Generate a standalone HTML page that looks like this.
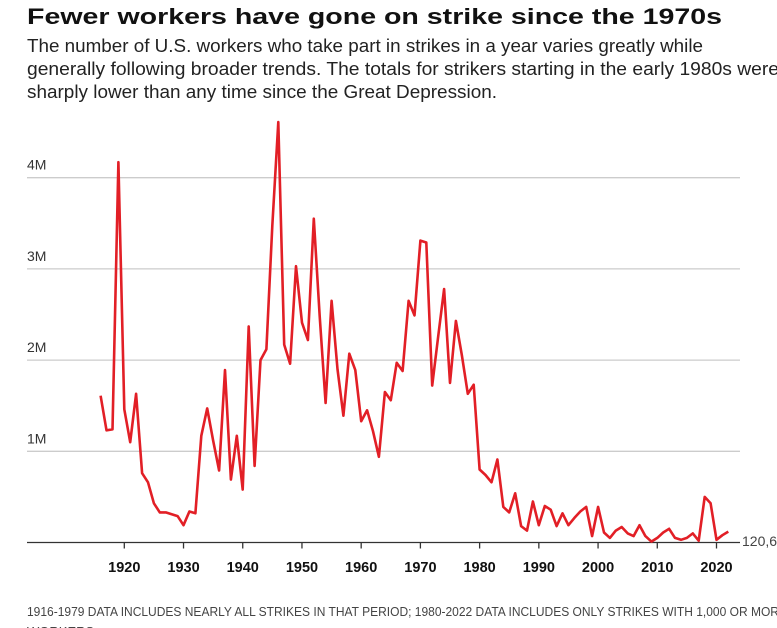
<!DOCTYPE html>
<html><head><meta charset="utf-8"><style>
html,body{margin:0;padding:0;background:#fff;width:777px;height:628px;overflow:hidden}
svg{display:block;font-family:"Liberation Sans",sans-serif}
</style></head><body>
<svg id="chart" width="777" height="628" viewBox="0 0 777 628">
<text x="27" y="24" font-size="22.5" font-weight="bold" fill="#111" textLength="695" lengthAdjust="spacingAndGlyphs">Fewer workers have gone on strike since the 1970s</text>
<g fill="#222" font-size="18">
<text x="27" y="52" textLength="676" lengthAdjust="spacingAndGlyphs">The number of U.S. workers who take part in strikes in a year varies greatly while</text>
<text x="27" y="75" textLength="752" lengthAdjust="spacingAndGlyphs">generally following broader trends. The totals for strikers starting in the early 1980s were</text>
<text x="27" y="98" textLength="470" lengthAdjust="spacingAndGlyphs">sharply lower than any time since the Great Depression.</text>
</g>
<g id="grid"></g>
<g id="xaxis"></g>
<path id="line" fill="none" stroke="#e21f26" stroke-width="2.6" stroke-linejoin="round"></path>
<text x="742" y="546" font-size="14" fill="#444">120,600</text>
<text x="27" y="616" font-size="13" fill="#444" textLength="760" lengthAdjust="spacingAndGlyphs">1916-1979 DATA INCLUDES NEARLY ALL STRIKES IN THAT PERIOD; 1980-2022 DATA INCLUDES ONLY STRIKES WITH 1,000 OR MORE</text>
<text x="27" y="636" font-size="13" fill="#444">WORKERS</text>
</svg>
<script>
const startYear = 1916;
const strikers = [1.61,1.23,1.24,4.17,1.46,1.10,1.63,0.76,0.66,0.43,0.33,0.33,0.31,0.29,0.19,0.34,0.32,1.17,1.47,1.12,0.79,1.89,0.69,1.17,0.58,2.37,0.84,2.00,2.12,3.47,4.61,2.17,1.96,3.03,2.41,2.22,3.55,2.48,1.53,2.65,1.90,1.39,2.07,1.89,1.33,1.45,1.22,0.94,1.65,1.56,1.97,1.88,2.65,2.49,3.31,3.29,1.72,2.26,2.78,1.75,2.43,2.05,1.63,1.73,0.80,0.74,0.66,0.91,0.39,0.33,0.54,0.18,0.13,0.45,0.19,0.40,0.36,0.18,0.32,0.19,0.27,0.34,0.39,0.07,0.39,0.11,0.05,0.13,0.17,0.10,0.07,0.19,0.07,0.01,0.05,0.11,0.15,0.05,0.03,0.05,0.10,0.02,0.50,0.43,0.03,0.08,0.12];
const yTicks = [1,2,3,4];
const yTickLabels = ["1M","2M","3M","4M"];
const xTicks = [1920,1930,1940,1950,1960,1970,1980,1990,2000,2010,2020];
const NS="http://www.w3.org/2000/svg";
const xs = y => 124.3 + (y-1920)*5.922;
const ys = v => 542.5 - v*91.2;
const grid=document.getElementById('grid'), xaxis=document.getElementById('xaxis');
function mk(tag,attrs,parent){const e=document.createElementNS(NS,tag);for(const k in attrs)e.setAttribute(k,attrs[k]);parent.appendChild(e);return e;}
yTicks.forEach((v,i)=>{
  const l=mk('line',{x1:27,x2:740,y1:ys(v),y2:ys(v),stroke:'#ccc','stroke-width':1.3},grid);
  
  
  const t=mk('text',{x:27,y:ys(v)-8,'font-size':14,fill:'#333'},grid);
  t.textContent=yTickLabels[i];
  
  
});
const base=mk('line',{x1:27,x2:740,y1:542.5,y2:542.5,stroke:'#333','stroke-width':1.3},xaxis);


xTicks.forEach(y=>{
  const tk=mk('line',{x1:xs(y),x2:xs(y),y1:542.5,y2:548.5,stroke:'#333','stroke-width':1.3},xaxis);
  
  
  const t=mk('text',{x:xs(y),y:572,'font-size':14.5,'font-weight':'bold',fill:'#111','text-anchor':'middle'},xaxis);
  t.textContent=y;
  
  
});
document.getElementById('line').setAttribute('d',strikers.map((v,i)=>(i?'L':'M')+xs(startYear+i).toFixed(1)+' '+ys(v).toFixed(1)).join(''));
</script>
</body></html>
